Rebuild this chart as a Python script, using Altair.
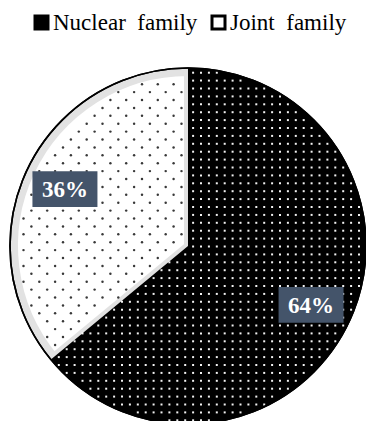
import math
import altair as alt
import pandas as pd

# ---- data ----
categories = ["Nuclear family", "Joint family"]
shares = [64, 36]
slice_colors = ["#000000", "#ffffff"]

# ---- layout constants ----
W, H = 366, 421
CX, CY, R = 188, 246, 178
LR = 136  # label radius
SPLIT = shares[0] / sum(shares) * 2 * math.pi
FONT = "Liberation Serif"

df = pd.DataFrame({"category": categories, "share": shares, "order": list(range(len(categories)))})

base = (
    alt.Chart(df)
    .transform_joinaggregate(total="sum(share)")
    .transform_window(cum="sum(share)", sort=[alt.SortField("order", order="ascending")], frame=[None, 0])
    .transform_calculate(
        a0="(datum.cum - datum.share) / datum.total * 2 * PI",
        a1="datum.cum / datum.total * 2 * PI",
        am="(datum.a0 + datum.a1) / 2",
        pct="datum.share / datum.total",
        lx=f"{CX} + {LR} * sin(datum.am)",
        ly=f"{CY} - {LR} * cos(datum.am) + 1",
    )
)

theta_enc = dict(
    theta=alt.Theta("a0:Q", scale=None),
    theta2="a1:Q",
    x=alt.value(CX),
    y=alt.value(CY),
)

slices = base.mark_arc(outerRadius=R).encode(
    color=alt.Color(
        "category:N",
        scale=alt.Scale(domain=categories, range=slice_colors),
        sort=categories,
        legend=alt.Legend(
            title=None,
            orient="none",
            legendX=30,
            legendY=11,
            direction="horizontal",
            symbolType="square",
            symbolSize=169,
            symbolStrokeColor="black",
            symbolStrokeWidth=3,
            labelFont=FONT,
            labelFontSize=23,
            labelColor="black",
            labelOffset=0,
            columnPadding=8,
            padding=0,
            labelExpr="replace(datum.label, ' ', '\u00a0 ')",
        ),
    ),
    **theta_enc,
)

joint_band = base.transform_filter(f"datum.category == '{categories[1]}'").mark_arc(
    outerRadius=R - 4, fill="white", stroke="#e2e2e2", strokeWidth=8, strokeJoin="miter"
).encode(**theta_enc)

nuclear_cover = base.transform_filter(f"datum.category == '{categories[0]}'").mark_arc(
    outerRadius=R, fill="black"
).encode(**theta_enc)

STEP = 7.9
NX, NY = 48, 55


def dot_grid(x0, y0):
    return (
        alt.Chart(alt.sequence(0, NX * NY, as_="n"))
        .transform_calculate(
            gx=f"datum.n % {NX}",
            gy=f"floor(datum.n / {NX})",
        )
        .transform_calculate(
            px=f"{x0} + {STEP} * datum.gx",
            py=f"{y0} + {STEP} * datum.gy",
        )
        .transform_calculate(
            dx=f"datum.px - {CX}",
            dy=f"datum.py - {CY}",
        )
        .transform_calculate(
            r="sqrt(datum.dx * datum.dx + datum.dy * datum.dy)",
            ang="(atan2(datum.dx, -datum.dy) + 2 * PI) % (2 * PI)",
        )
    )


pos = dict(
    x=alt.X("px:Q", scale=None, axis=None),
    y=alt.Y("py:Q", scale=None, axis=None),
)

nuclear_dots = (
    dot_grid(3.5, 1.6)
    .transform_filter(f"datum.r < {R - 2} && datum.ang > 0.005 && datum.ang < {SPLIT}")
    .mark_square(size=4, color="white", opacity=0.95)
    .encode(**pos)
)

joint_dots = (
    dot_grid(7.7, 5.2)
    .transform_filter(
        f"(datum.gx + datum.gy) % 2 == 1 && datum.r < {R - 9} && datum.ang > {SPLIT} && datum.dx < -4"
        f" && abs(datum.dx * cos({SPLIT}) + datum.dy * sin({SPLIT})) > 4"
    )
    .mark_circle(size=6, color="#222222", opacity=0.9)
    .encode(**pos)
)

outline = base.mark_arc(
    outerRadius=R, theta=0, theta2=2 * math.pi, fillOpacity=0, stroke="black", strokeWidth=1.6
).encode(x=alt.value(CX), y=alt.value(CY))

boxes = base.mark_point(
    shape="M-1,-0.55L1,-0.55L1,0.55L-1,0.55Z",
    size=4225,
    filled=True,
    color="#44546A",
    opacity=1,
).encode(
    x=alt.X("lx:Q", scale=None, axis=None),
    y=alt.Y("ly:Q", scale=None, axis=None),
)

labels = base.mark_text(
    font=FONT, fontSize=23, fontWeight="bold", color="white", align="center", baseline="middle", dy=1
).encode(
    x=alt.X("lx:Q", scale=None, axis=None),
    y=alt.Y("ly:Q", scale=None, axis=None),
    text=alt.Text("pct:Q", format=".0%"),
)

chart = (
    alt.layer(slices, joint_band, joint_dots, nuclear_cover, nuclear_dots, outline, boxes, labels)
    .properties(width=W, height=H, padding=0, autosize="none", background="white")
    .configure_view(strokeWidth=0)
)

chart.save("out.html", embed_options={"renderer": "svg", "actions": False})
